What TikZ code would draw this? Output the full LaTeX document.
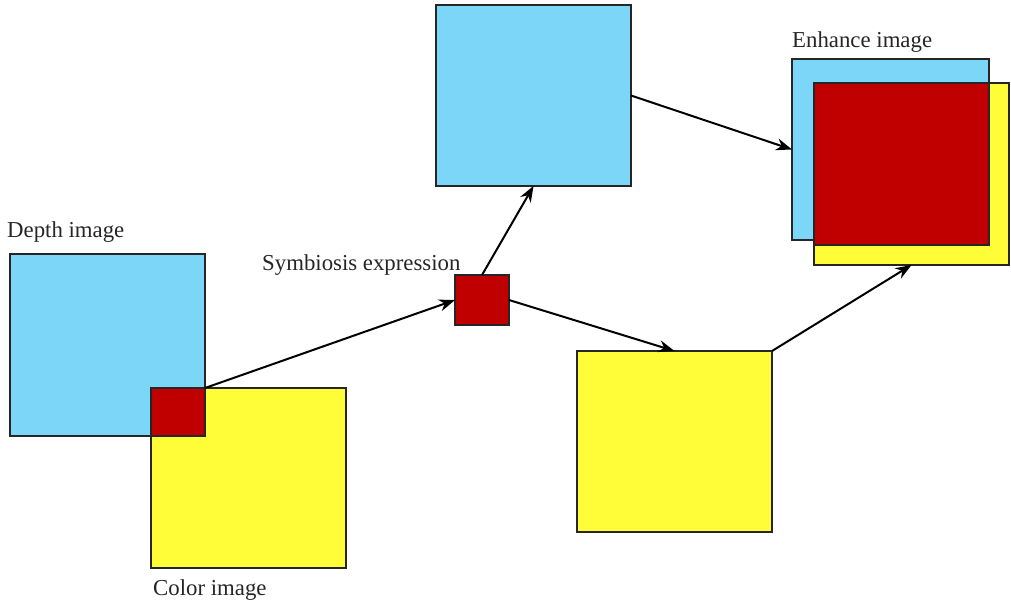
\documentclass[tikz,border=0pt]{standalone}
\usepackage{fontspec}
\setmainfont{Liberation Serif}
\usetikzlibrary{arrows.meta}
\definecolor{skyb}{RGB}{124,214,247}
\definecolor{yel}{RGB}{255,253,56}
\definecolor{dred}{RGB}{192,0,0}
\tikzset{
  box/.style={draw=black!85, line width=2.5pt, inner sep=0pt, outer sep=0pt},
  conn/.style={line width=2pt, -{Stealth[length=16pt,width=12pt]}},
  lbl/.style={font=\fontsize{22.8}{25}\selectfont, inner sep=0pt, anchor=base west, text=black!85}
}
\begin{document}
\begin{tikzpicture}[x=1pt,y=-1pt]
\useasboundingbox (0,0) rectangle (1011,605);
% depth / color
\node[box, fill=skyb, minimum width=195pt, minimum height=182pt] (depth) at (107.5,345) {};
\node[box, fill=yel, minimum width=195pt, minimum height=180pt] (color) at (248.5,478) {};
\node[box, fill=dred, minimum width=54pt, minimum height=48pt] (ovl) at (178,412) {};
% symbiosis
\node[box, fill=dred, minimum width=54pt, minimum height=50pt] (sym) at (482,300) {};
% top blue
\node[box, fill=skyb, minimum width=195pt, minimum height=181pt] (top) at (533.5,95.5) {};
% bottom yellow
\node[box, fill=yel, minimum width=195pt, minimum height=181pt] (bot) at (674.5,441.5) {};
% enhance
\node[box, fill=skyb, minimum width=197pt, minimum height=181pt] (enhb) at (890.5,149.5) {};
\node[box, fill=yel, minimum width=195pt, minimum height=182pt] (enhy) at (911.5,174) {};
\node[box, fill=dred, minimum width=175pt, minimum height=162pt] (enhr) at (901.5,164) {};
% labels
\node[lbl] (ldepth) at (7,237) {Depth image};
\node[lbl] (lcolor) at (153,595) {Color image};
\node[lbl] (lsym) at (262,270) {Symbiosis expression};
\node[lbl] (lenh) at (792,47) {Enhance image};
% connectors
\draw[conn] (ovl.north east) -- (sym.west);
\draw[conn] (sym.north) -- (top.south);
\draw[conn] (top.east) -- (enhb.west);
\draw[conn] (sym.east) -- (bot.north);
\draw[conn] (bot.north east) -- (enhy.south);
\end{tikzpicture}
\end{document}
